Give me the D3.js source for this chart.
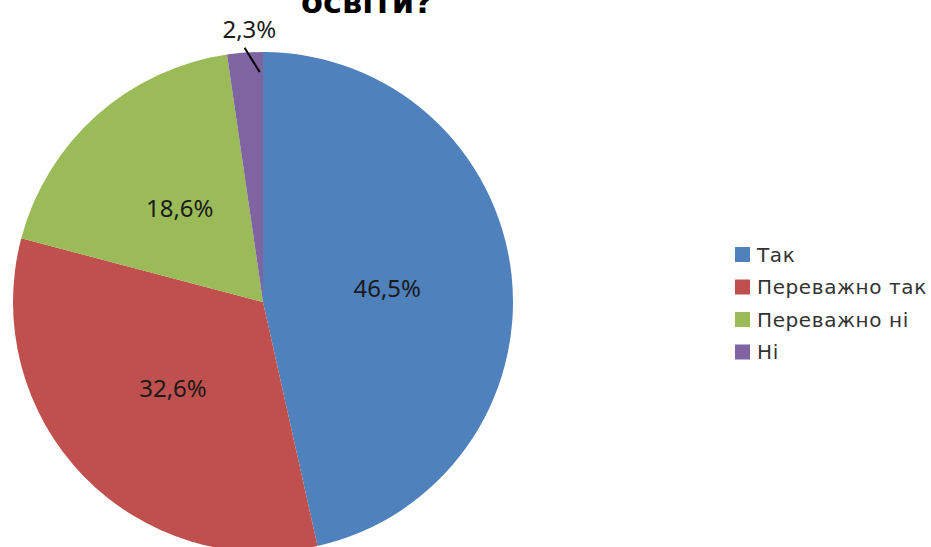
<!DOCTYPE html>
<html lang="uk">
<head>
<meta charset="UTF-8">
<title>освіти?</title>
<style>
  body { margin: 0; padding: 0; background: #fff; }
  svg { display: block; }
</style>
</head>
<body>
<script src="https://d3js.org/d3.v7.min.js"></script>
<script>
  // дані діаграми
  const categories = ['Так', 'Переважно так', 'Переважно ні', 'Ні'];
  const values = [46.5, 32.6, 18.6, 2.3];
  const colors = ['#4F81BD', '#C0504D', '#9BBB59', '#8064A2'];
  const titleText = 'освіти?';

  const width = 931, height = 547;
  const cx = 263, cy = 302, R = 250;

  const svg = d3.select('body').append('svg')
    .attr('width', width)
    .attr('height', height);

  // заголовок (верх обрізаний, як в оригіналі)
  svg.append('text')
    .attr('x', 301)
    .attr('y', 13)
    .attr('font-family', 'DejaVu Sans')
    .attr('font-weight', 'bold')
    .attr('font-size', 32)
    .attr('fill', '#000')
    .text(titleText);

  const data = categories.map((c, i) => ({ name: c, value: values[i], color: colors[i] }));

  const pie = d3.pie().value(d => d.value).sort(null);
  const arcs = pie(data);

  const arc = d3.arc().innerRadius(0).outerRadius(R);
  const labelArc = d3.arc().innerRadius(R * 0.5).outerRadius(R * 0.5);

  const g = svg.append('g').attr('transform', `translate(${cx},${cy})`);

  g.selectAll('path')
    .data(arcs)
    .join('path')
    .attr('d', arc)
    .attr('fill', d => d.data.color);

  const fmt = v => d3.format('.1f')(v).replace('.', ',') + '%';

  // підписи всередині
  const inside = arcs.filter(d => d.data.value >= 5);
  g.selectAll('text.lbl')
    .data(inside)
    .join('text')
    .attr('class', 'lbl')
    .attr('transform', d => `translate(${labelArc.centroid(d)})`)
    .attr('text-anchor', 'middle')
    .attr('dy', '0.35em')
    .attr('font-family', 'Noto Sans')
    .attr('font-size', 24)
    .attr('fill', '#1a1a1a')
    .text(d => fmt(d.data.value));

  // маленький сектор - підпис зовні з лінією
  const outside = arcs.filter(d => d.data.value < 5);
  const polar = (a, r) => [Math.sin(a) * r, -Math.cos(a) * r];
  outside.forEach(d => {
    const mid = (d.startAngle + d.endAngle) / 2;
    const a0 = mid + (d.endAngle - mid) * 0.8;
    const p0 = polar(a0, R * 0.92);
    const p1 = polar(mid, R * 1.02);
    g.append('line')
      .attr('x1', p0[0]).attr('y1', p0[1])
      .attr('x2', p1[0]).attr('y2', p1[1])
      .attr('stroke', '#000')
      .attr('stroke-width', 2);
    const pl = polar(mid, R * 1.09);
    g.append('text')
      .attr('x', pl[0] + 6)
      .attr('y', pl[1] + 8)
      .attr('text-anchor', 'middle')
      .attr('font-family', 'Noto Sans')
      .attr('font-size', 24)
      .attr('fill', '#1a1a1a')
      .text(fmt(d.data.value));
  });

  // легенда
  const legend = svg.append('g').attr('transform', 'translate(735,254)');
  const rowH = 32.5;
  legend.selectAll('rect')
    .data(data)
    .join('rect')
    .attr('x', 0)
    .attr('y', (d, i) => i * rowH - 7)
    .attr('width', 15)
    .attr('height', 15)
    .attr('fill', d => d.color);
  legend.selectAll('text')
    .data(data)
    .join('text')
    .attr('x', 22)
    .attr('y', (d, i) => i * rowH)
    .attr('dy', '0.38em')
    .attr('font-family', 'DejaVu Sans')
    .attr('font-size', 20)
    .attr('letter-spacing', 0.6)
    .attr('fill', '#333')
    .text(d => d.name);
</script>
</body>
</html>
